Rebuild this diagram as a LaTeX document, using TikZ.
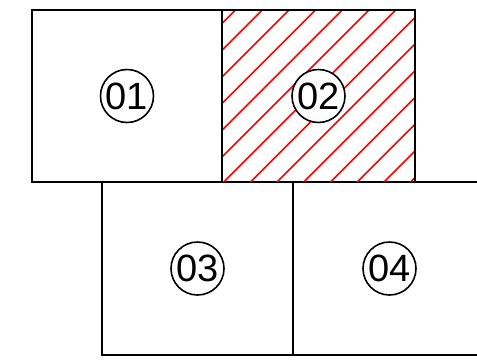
\documentclass[tikz,border=0pt]{standalone}
\usepackage{fontspec}
\setmainfont{Liberation Sans}
\usetikzlibrary{positioning}
\begin{document}
\begin{tikzpicture}[x=0.5pt,y=-0.5pt,
cell/.style={draw,line width=1pt,minimum width=95pt,minimum height=86pt,inner sep=0pt,outer sep=0pt},
num/.style={draw,circle,line width=0.8pt,minimum size=26.5pt,inner sep=0pt,font=\fontsize{19}{22}\selectfont},
hatch/.style={red,line width=0.8pt}]
\useasboundingbox (0,0) rectangle (477,360);
\clip (0,0) rectangle (477,360);
\node[cell] (c01) at (127,96) {};
\node[cell,minimum width=96.5pt,right=0pt of c01] (c02) {};
\node[cell,minimum width=95.5pt,minimum height=86.5pt] (c03) at (197.5,268.5) {};
\node[cell,minimum width=96.5pt,minimum height=86.5pt,right=0pt of c03] (c04) {};
\begin{scope}
\clip ([shift={(0.5pt,0.5pt)}]c02.south west) rectangle ([shift={(-0.5pt,-0.5pt)}]c02.north east);
\foreach \k in {0,...,13}
  \draw[hatch] ({245.5+26.7*\k},0)--(0,{245.5+26.7*\k});
\end{scope}
\node[num,fill=white] (n01) at (c01) {01};
\node[num,fill=white] (n02) at (c02) {02};
\node[num] (n03) at (c03) {03};
\node[num] (n04) at (c04) {04};
\end{tikzpicture}
\end{document}
